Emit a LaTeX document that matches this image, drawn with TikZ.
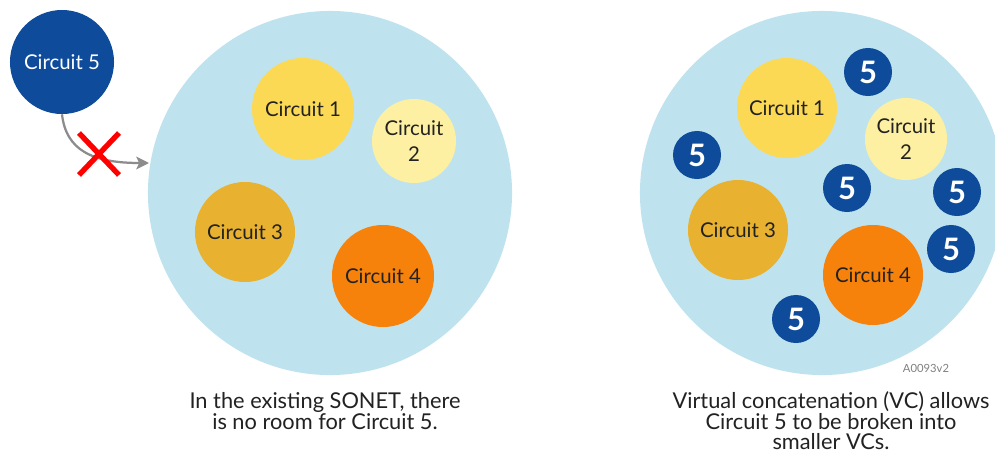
\documentclass[tikz,border=0pt]{standalone}
\usepackage{fontspec}
\setmainfont{Lato}
\usetikzlibrary{arrows.meta}
\definecolor{ring}{HTML}{BEE3EE}
\definecolor{cone}{HTML}{FCD955}
\definecolor{ctwo}{HTML}{FDF0A2}
\definecolor{cthree}{HTML}{E8B12F}
\definecolor{cfour}{HTML}{F7820B}
\definecolor{cfive}{HTML}{0E4C9B}
\definecolor{ink}{HTML}{222222}
\tikzset{
  ringbox/.style={circle,fill=ring,inner sep=0pt,minimum size=9.1cm},
  circ/.style={circle,inner sep=0pt,text=ink,font=\fontsize{14.5}{19}\selectfont,align=center},
  vcbox/.style={circle,fill=cfive,inner sep=0pt,minimum size=1.2cm,text=white,font=\fontsize{22}{22}\selectfont\bfseries},
  caption/.style={align=center,text=ink,font=\fontsize{15.5}{14.6}\selectfont},
}
\begin{document}
\begin{tikzpicture}[x=0.025cm,y=-0.025cm]
\useasboundingbox (0,0) rectangle (995,455);
\clip (0,0) rectangle (995,455);
\fill[white] (0,0) rectangle (995,455);

% existing SONET
\node[ringbox] (ringL) at (330,193) {};
\node[circ,fill=cone,minimum size=2.55cm] (l1) at (303,109) {Circuit 1};
\node[circ,fill=ctwo,minimum size=2.1cm] (l2) at (414,141) {Circuit\\2};
\node[circ,fill=cthree,minimum size=2.5cm] (l3) at (245,232) {Circuit 3};
\node[circ,fill=cfour,minimum size=2.55cm] (l4) at (383,276) {Circuit 4};

% circuit 5 that does not fit
\node[circ,fill=cfive,text=white,minimum size=2.6cm] (c5) at (62,62) {Circuit 5};
\coordinate (entry) at (149,163);
\draw[gray!90,line width=1.6pt,-{Stealth[length=9pt,width=9pt,inset=2pt]}]
  (c5.south) .. controls (66,150) and (92,163) .. (entry);
\draw[red,line width=3.8pt] (79,133) -- (119,175) (119,133) -- (79,175);

% virtual concatenation
\node[ringbox] (ringR) at (822,193) {};
\node[circ,fill=cone,minimum size=2.5cm] (r1) at (787,108) {Circuit 1};
\node[circ,fill=ctwo,minimum size=2.05cm] (r2) at (906,139) {Circuit\\2};
\node[circ,fill=cthree,minimum size=2.5cm] (r3) at (738,230) {Circuit 3};
\node[circ,fill=cfour,minimum size=2.5cm] (r4) at (873,275) {Circuit 4};
\node[vcbox] (v1) at (868,72) {5};
\node[vcbox] (v2) at (697,155) {5};
\node[vcbox] (v3) at (847,188) {5};
\node[vcbox] (v4) at (957,192) {5};
\node[vcbox] (v5) at (951,249) {5};
\node[vcbox] (v6) at (796,319) {5};

\node[text=gray,font=\fontsize{8}{8}\selectfont] (tag) at (926,368) {A0093v2};

\node[caption] (capL) at (325,411) {In the existing SONET, there\\is no room for Circuit 5.};
\node[caption] (capR) at (831,421) {Virtual concatenation (VC) allows\\Circuit 5 to be broken into\\smaller VCs.};
\end{tikzpicture}
\end{document}
